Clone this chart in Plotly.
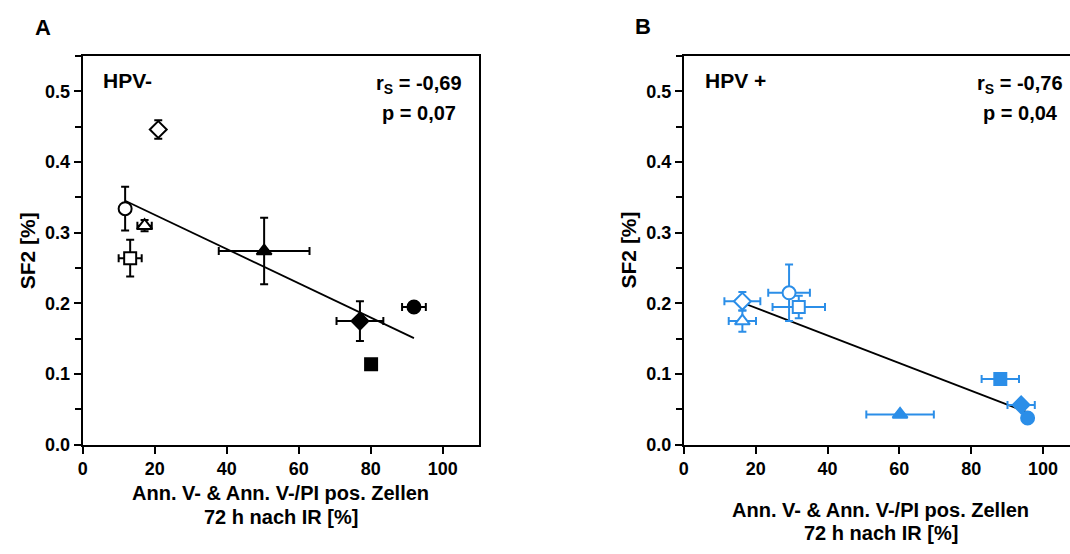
import numpy as np
import plotly.graph_objects as go

# ---------------- data ----------------
# Panel A (HPV-), black symbols
a_x = [21.0, 11.8, 17.2, 13.2, 50.4, 77.0, 92.0, 80.1]
a_y = [0.446, 0.334, 0.310, 0.264, 0.274, 0.175, 0.195, 0.114]
a_xerr = [0.0, 0.0, 2.0, 3.2, 12.6, 6.5, 3.3, 0.0]
a_yerr = [0.013, 0.031, 0.008, 0.026, 0.047, 0.028, 0.0, 0.0]
a_sym = ["diamond", "circle", "triangle-up", "square", "triangle-up", "diamond", "circle", "square"]
a_open = [True, True, True, True, False, False, False, False]

# Panel B (HPV+), blue symbols
b_x = [16.3, 16.3, 29.3, 32.0, 88.1, 93.9, 95.7, 60.2]
b_y = [0.203, 0.175, 0.215, 0.195, 0.093, 0.0565, 0.038, 0.043]
b_xerr = [5.0, 3.8, 5.8, 7.3, 5.2, 3.8, 0.0, 9.4]
b_yerr = [0.013, 0.015, 0.040, 0.016, 0.0, 0.0, 0.0, 0.0]
b_sym = ["diamond", "triangle-up", "circle", "square", "square", "diamond", "circle", "triangle-up"]
b_open = [True, True, True, True, False, False, False, False]

x_ticks = [0, 20, 40, 60, 80, 100]
y_ticks = [0.0, 0.1, 0.2, 0.3, 0.4, 0.5]
y_tick_text = ["0.0", "0.1", "0.2", "0.3", "0.4", "0.5"]

stats_a = ("-0,69", "0,07")
stats_b = ("-0,76", "0,04")

BLUE = "#2b8ee8"
FONT = "Liberation Sans"
W, H = 1070, 554


def px(xp):
    return xp / W


def py(yp):
    return 1 - yp / H


fig = go.Figure()


def add_panel(xs, ys, xe, ye, syms, opens, color, xa, ya):
    fills = ["white" if o else color for o in opens]
    # linear regression line spanning the data range
    k, d = np.polyfit(xs, ys, 1)
    lx = np.array([min(xs), max(xs)])
    fig.add_trace(go.Scatter(x=lx, y=k * lx + d, mode="lines",
                             line=dict(color="black", width=1.8),
                             xaxis=xa, yaxis=ya, showlegend=False, hoverinfo="skip"))
    sizes = [12 if s == "square" else 13 for s in syms]
    fig.add_trace(go.Scatter(
        x=xs, y=ys, mode="markers", xaxis=xa, yaxis=ya, showlegend=False,
        marker=dict(symbol=syms, size=sizes, color=fills, opacity=1,
                    line=dict(color=color, width=2)),
        error_x=dict(type="data", array=xe, color=color, thickness=2, width=4),
        error_y=dict(type="data", array=ye, color=color, thickness=2, width=4),
    ))


add_panel(a_x, a_y, a_xerr, a_yerr, a_sym, a_open, "black", "x", "y")
add_panel(b_x, b_y, b_xerr, b_yerr, b_sym, b_open, BLUE, "x2", "y2")

tickfont = dict(family=FONT, size=18, color="black", weight="bold")

ydom = [py(453), py(57)]
common_x = dict(tickvals=x_ticks, ticks="outside", ticklen=7, tickwidth=2,
                showline=True, linewidth=2, linecolor="black", showgrid=False,
                zeroline=False, tickfont=tickfont, tickcolor="black",
                ticklabelstandoff=0)
common_y = dict(range=[0, 0.55], tickvals=y_ticks, ticktext=y_tick_text,
                ticks="outside", ticklen=7, tickwidth=2, showline=True,
                linewidth=2, linecolor="black", showgrid=False, zeroline=False,
                tickfont=tickfont, tickcolor="black",
                minor=dict(dtick=0.05, tick0=0, ticks="outside", ticklen=6,
                           tickwidth=2, tickcolor="black", showgrid=False))

fig.update_layout(
    width=W, height=H, margin=dict(l=0, r=0, t=0, b=0),
    paper_bgcolor="white", plot_bgcolor="white",
    xaxis=dict(domain=[px(78), px(476)], range=[0, 110], mirror=True, anchor="y", **common_x),
    yaxis=dict(domain=ydom, mirror=True, anchor="x", **common_y),
    xaxis2=dict(domain=[px(682), 1.0], range=[0, 107.5], mirror=True, anchor="y2", **common_x),
    yaxis2=dict(domain=ydom, mirror=False, anchor="x2", **common_y),
)


def ann(text, xp, yp, size=20, xanchor="center"):
    fig.add_annotation(text=text, x=px(xp), y=py(yp), xref="paper", yref="paper",
                       showarrow=False, xanchor=xanchor, yanchor="middle",
                       font=dict(family=FONT, size=size, color="black", weight="bold"))


# panel letters
ann("A", 38, 28, size=22)
ann("B", 641, 27, size=22)
# group labels
ann("HPV-", 96, 82, size=21, xanchor="left")
ann("HPV +", 701, 82, size=21, xanchor="left")
# statistics
ann("r<sub>S</sub> = " + stats_a[0], 416, 86)
ann("p = " + stats_a[1], 416, 115)
ann("r<sub>S</sub> = " + stats_b[0], 1020, 86)
ann("p = " + stats_b[1], 1020, 115)

# axis titles
for xc in (22, 626):
    fig.add_annotation(text="SF2 [%]", x=px(xc), y=py(255), xref="paper", yref="paper",
                       showarrow=False, textangle=-90, xanchor="center", yanchor="middle",
                       font=dict(family=FONT, size=21, color="black", weight="bold"))
ann("Ann. V- &amp; Ann. V-/PI pos. Zellen", 277, 502)
ann("72 h nach IR [%]", 277, 526)
ann("Ann. V- &amp; Ann. V-/PI pos. Zellen", 880, 519)
ann("72 h nach IR [%]", 880, 543)

fig.write_html("out.html", config={"displayModeBar": False},
               post_script="document.body.style.margin='0';document.body.style.overflow='hidden';")
